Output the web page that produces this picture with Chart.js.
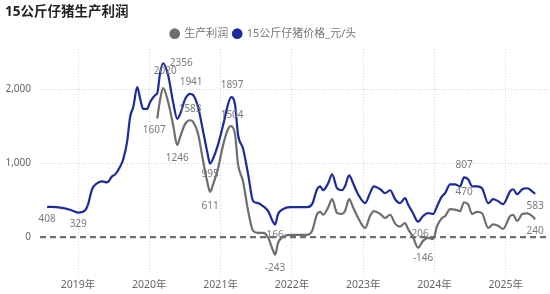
<!DOCTYPE html>
<html lang="zh-CN">
<head>
<meta charset="UTF-8">
<title>15公斤仔猪生产利润</title>
<script src="https://cdn.jsdelivr.net/npm/chart.js"></script>
<style>
  html, body { margin: 0; padding: 0; background: #fff; }
  .wrap { position: relative; width: 550px; height: 294px; }
</style>
</head>
<body>
<div class="wrap"><canvas id="c"></canvas></div>
<script>
const dates = [
  '2018-07-24','2018-09-30','2018-11-20','2019-01-01','2019-02-06','2019-02-21','2019-03-11','2019-04-06',
  '2019-05-02','2019-05-27','2019-06-22','2019-07-08','2019-08-03','2019-08-18','2019-09-08','2019-09-23',
  '2019-10-09','2019-10-29','2019-11-14','2019-11-29','2019-12-19','2020-01-04','2020-01-30','2020-02-10',
  '2020-02-25','2020-03-10','2020-04-05','2020-04-30','2020-05-21','2020-06-06','2020-07-01','2020-07-26',
  '2020-08-11','2020-09-06','2020-10-02','2020-10-22','2020-11-07','2020-11-22','2020-12-17','2021-01-13',
  '2021-02-08','2021-02-23','2021-03-13','2021-03-28','2021-04-23','2021-05-19','2021-06-14','2021-07-09',
  '2021-08-04','2021-08-30','2021-09-25','2021-10-05','2021-10-20','2021-11-15','2021-12-21','2022-03-17',
  '2022-04-12','2022-05-07','2022-05-23','2022-06-07','2022-07-03','2022-07-23','2022-08-18','2022-09-13',
  '2022-09-28','2022-10-19','2022-11-09','2022-12-04','2023-01-10','2023-02-04','2023-02-24','2023-03-26',
  '2023-04-20','2023-05-16','2023-06-11','2023-07-06','2023-08-01','2023-08-16','2023-09-11','2023-10-07',
  '2023-11-02','2023-11-27','2023-12-23','2024-01-13','2024-02-08','2024-02-23','2024-03-19','2024-04-14',
  '2024-05-09','2024-05-29','2024-06-20','2024-07-10','2024-08-05','2024-08-30','2024-10-01','2024-10-26',
  '2024-11-21','2024-12-16','2025-01-22','2025-02-07','2025-02-27','2025-03-23','2025-04-18','2025-05-13',
  '2025-05-28'
];
// 15公斤仔猪价格_元/头
const price = [
  408, 398, 368, 329, 360, 444, 646, 727,
  754, 740, 821, 848, 956, 1050, 1292, 1629,
  1763, 2032, 1871, 1736, 1736, 1830, 1925, 1950,
  2234, 2356, 2194, 1830, 1602, 1669, 1871, 1941,
  1925, 1763, 1427, 1158, 995, 1063, 1252, 1521,
  1804, 1897, 1790, 1386, 1198, 848, 485, 458,
  417, 350, 200, 166, 310, 377, 404, 404,
  444, 646, 686, 633, 727, 848, 660, 633,
  686, 834, 727, 579, 458, 592, 686, 646,
  592, 633, 511, 458, 525, 444, 323, 206,
  283, 323, 310, 417, 552, 592, 713, 713,
  686, 807, 781, 686, 686, 660, 458, 511,
  485, 444, 619, 646, 579, 646, 660, 619,
  583
];
// 生产利润
const profit = [
  null, null, null, null, null, null, null, null,
  null, null, null, null, null, null, null, null,
  null, null, null, null, null, null, null, 1607,
  1871, 2020, 1830, 1521, 1246, 1360, 1534, 1583,
  1561, 1400, 1023, 754, 611, 713, 929, 1252,
  1467, 1504, 1386, 983, 754, 350, 81, 54,
  54, -13, -188, -243, -80, 0, 27, 27,
  81, 310, 340, 300, 400, 512, 323, 310,
  350, 512, 400, 260, 121, 280, 350, 310,
  256, 300, 180, 140, 188, 110, 0, -146,
  -54, -13, -27, 148, 256, 280, 377, 370,
  350, 470, 440, 310, 340, 320, 121, 170,
  150, 108, 283, 300, 215, 310, 320, 283,
  240
];
const yearTicks = [2019, 2020, 2021, 2022, 2023, 2024, 2025];
const valueTicks = [0, 1000, 2000];
const xRange = ['2018-06-18', '2025-08-03'];

// points that carry a value label: date -> [dx, dy]
const priceTags = {
  '2018-07-24': [0, 12], '2019-01-01': [0, 12], '2020-03-10': [18, 0], '2020-07-26': [1, -12],
  '2021-02-23': [1, -12], '2020-11-07': [0, 11], '2021-10-05': [0, 11], '2023-10-07': [2, 12],
  '2024-05-29': [0, -12], '2025-05-28': [0, 12]
};
const profitTags = {
  '2020-02-10': [-3, 12], '2020-03-10': [2, -17], '2020-05-21': [0, 13], '2020-07-26': [0, -11],
  '2020-11-07': [0, 14], '2021-02-23': [1, -11], '2021-10-05': [0, 13], '2023-10-07': [5, 11],
  '2024-05-29': [0, -10], '2025-05-28': [0, 12]
};

function toYear(s) {
  const [y, m, d] = s.split('-').map(Number);
  return y + (m - 1 + d / 30) / 12;
}

const BLUE = '#1c2b9c';
const GREY = '#6e6e6e';
const FONT = '"Segoe UI", "Noto Sans", "Noto Sans CJK SC", sans-serif';
Chart.defaults.font.family = FONT;

const pts = arr => dates.map((d, i) => ({ x: toYear(d), y: arr[i] }));

const tagPlugin = {
  id: 'tags',
  beforeDraw(chart) {
    // legend in the original sits a little left of centre
    const lg = chart.legend;
    if (lg && !lg._shifted) { lg.right -= 26; lg._shifted = true; }
  },
  afterDatasetsDraw(chart) {
    const ctx = chart.ctx;
    ctx.save();
    ctx.font = '10px ' + FONT;
    ctx.fillStyle = '#7a7a7a';
    ctx.textAlign = 'center';
    ctx.textBaseline = 'middle';
    [[0, profitTags, profit], [1, priceTags, price]].forEach(([di, tags, vals]) => {
      const meta = chart.getDatasetMeta(di);
      dates.forEach((d, i) => {
        if (!tags[d]) return;
        const el = meta.data[i];
        ctx.fillText(String(vals[i]), el.x + tags[d][0], el.y + tags[d][1]);
      });
    });
    ctx.restore();
  }
};

new Chart(document.getElementById('c'), {
  type: 'line',
  data: {
    datasets: [
      { label: '生产利润', data: pts(profit), borderColor: GREY, backgroundColor: GREY, borderWidth: 2.2,
        pointRadius: 0, cubicInterpolationMode: 'monotone', spanGaps: false },
      { label: '15公斤仔猪价格_元/头', data: pts(price), borderColor: BLUE, backgroundColor: BLUE, borderWidth: 2.2,
        pointRadius: 0, cubicInterpolationMode: 'monotone' }
    ]
  },
  options: {
    responsive: true,
    maintainAspectRatio: false,
    animation: false,
    layout: { padding: { left: 5, right: 2, top: 0, bottom: 0 } },
    plugins: {
      title: { display: true, text: '15公斤仔猪生产利润', align: 'start', color: '#252423',
        font: { size: 13.5, weight: 'bold' }, padding: { top: 4, bottom: 3 } },
      legend: { display: true, position: 'top', align: 'center',
        labels: { usePointStyle: true, pointStyle: 'circle', boxWidth: 8, boxHeight: 6,
          color: '#777', font: { size: 11 }, padding: 5 } },
      tooltip: { enabled: false }
    },
    scales: {
      x: {
        type: 'linear',
        min: toYear(xRange[0]), max: toYear(xRange[1]),
        afterBuildTicks: s => { s.ticks = yearTicks.map(v => ({ value: v })); },
        ticks: { color: '#666', font: { size: 10.5 }, maxRotation: 0, autoSkip: false, padding: 3,
          callback: v => v + '年' },
        grid: { color: '#d0d0d0', lineWidth: 1, drawTicks: false },
        border: { display: false, dash: [1, 2] }
      },
      y: {
        min: -523, max: 2547,
        afterBuildTicks: s => { s.ticks = valueTicks.map(v => ({ value: v })); },
        afterFit: s => { s.width = 35; },
        ticks: { color: '#666', font: { size: 10 }, padding: 9,
          callback: v => v.toLocaleString('en-US') },
        grid: { drawTicks: false,
          color: c => c.tick && c.tick.value === 0 ? '#6e6e6e' : '#d0d0d0',
          lineWidth: c => c.tick && c.tick.value === 0 ? 2.2 : 1 },
        border: { display: false,
          dash: c => c.tick && c.tick.value === 0 ? [6, 4] : [1, 2] }
      }
    }
  },
  plugins: [tagPlugin]
});
</script>
</body>
</html>
